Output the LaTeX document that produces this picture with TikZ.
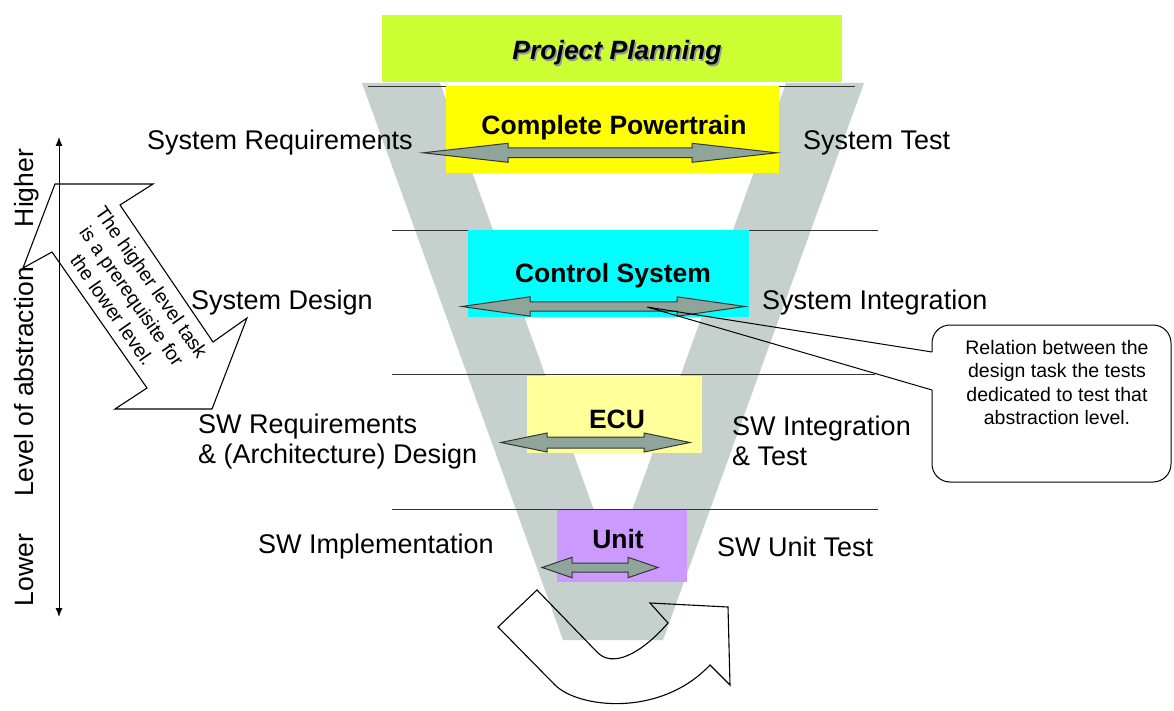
\documentclass[tikz,border=0pt]{standalone}
\usepackage{fontspec}
\setmainfont{Liberation Sans}
\usetikzlibrary{arrows.meta}
\definecolor{vgray}{RGB}{198,209,206}
\definecolor{ppgreen}{RGB}{204,255,51}
\definecolor{cpyellow}{RGB}{255,255,0}
\definecolor{cscyan}{RGB}{0,255,255}
\definecolor{ecuyellow}{RGB}{255,255,153}
\definecolor{unitpurple}{RGB}{204,153,255}
\definecolor{arrowgreen}{RGB}{143,165,156}
\definecolor{arrowedge}{RGB}{50,55,52}
\newcommand{\dblarrow}[6]{%
  \path[blk] (#1,#3) -- (#1+#4,#3-#6) -- (#1+#4,#3-#5) -- (#2-#4,#3-#5) -- (#2-#4,#3-#6)
    -- (#2,#3) -- (#2-#4,#3+#6) -- (#2-#4,#3+#5) -- (#1+#4,#3+#5) -- (#1+#4,#3+#6) -- cycle;}
\begin{document}
\begin{tikzpicture}[x=1pt,y=-1pt,
  lbl/.style={inner sep=0pt, anchor=base west, font=\fontsize{27}{31}\selectfont},
  boxlbl/.style={inner sep=0pt, anchor=base, font=\bfseries\fontsize{26.5}{31}\selectfont},
  boxbg/.style={inner sep=0pt, anchor=north west, draw=none},
  sepline/.style={draw=black!80, line width=0.9pt},
  blk/.style={fill=arrowgreen, draw=arrowedge, line width=1pt, line join=miter},
  outl/.style={draw=black, line width=1.1pt, line join=miter},
  vlbl/.style={inner sep=0pt, anchor=base, rotate=90, font=\fontsize{26.5}{31}\selectfont}]
\useasboundingbox (0,0) rectangle (1174,711);
\fill[white] (0,0) rectangle (1174,711);

% V shape
\fill[vgray] (362,83) -- (440,83) -- (613,563) -- (786,83) -- (864,83) -- (663,640) -- (563,640) -- cycle;

% level separators
\draw[sepline] (368,86) -- (855,86);
\draw[sepline] (392,230) -- (878,230);
\draw[sepline] (392,374) -- (875,374);
\draw[sepline] (392,509) -- (878,509);

% boxes
\node[boxbg, fill=ppgreen, minimum width=460pt, minimum height=67pt] (pp) at (382,15) {};
\node[boxbg, fill=cpyellow, minimum width=333pt, minimum height=87pt] (cp) at (446,86) {};
\node[boxbg, fill=cscyan, minimum width=281pt, minimum height=87pt] (cs) at (468,230) {};
\node[boxbg, fill=ecuyellow, minimum width=175pt, minimum height=77pt] (ecu) at (527,376) {};
\node[boxbg, fill=unitpurple, minimum width=130pt, minimum height=72pt] (unit) at (557,510) {};

% box titles
\node[boxlbl, text=black!40, font=\bfseries\itshape\fontsize{26.5}{31}\selectfont] (ppshadow) at (618.5,61.5) {Project Planning};
\node[boxlbl, font=\bfseries\itshape\fontsize{26.5}{31}\selectfont] (pptext) at (617,60) {Project Planning};
\node[boxlbl] (cptext) at (614,135) {Complete Powertrain};
\node[boxlbl] (cstext) at (613,282) {Control System};
\node[boxlbl] (ecutext) at (617,428) {ECU};
\node[boxlbl] (unittext) at (618,548) {Unit};

% double block arrows
\dblarrow{423}{777}{152.8}{85}{4.8}{9.5}
\dblarrow{462}{745}{306.5}{68}{4.7}{9.7}
\dblarrow{501}{690}{442.5}{46}{5.5}{9.5}
\dblarrow{542}{658}{567.5}{30}{4.5}{10.2}

% side labels
\node[lbl] (sr) at (147,150) {System Requirements};
\node[lbl] (st) at (803,150) {System Test};
\node[lbl] (sd) at (191,309) {System Design};
\node[lbl] (si) at (762,309) {System Integration};
\node[lbl] (swr1) at (198,433) {SW Requirements};
\node[lbl] (swr2) at (198,463) {\& (Architecture) Design};
\node[lbl] (swi1) at (732,435) {SW Integration};
\node[lbl] (swi2) at (732,465) {\& Test};
\node[lbl] (swimp) at (258,553) {SW Implementation};
\node[lbl] (swut) at (717,556) {SW Unit Test};

% abstraction axis
\coordinate (axtop) at (59,137);
\coordinate (axbot) at (59,617);
\draw[line width=1pt, {Latex[length=9pt,width=7pt]}-{Latex[length=9pt,width=7pt]}] (axtop) -- (axbot);
\node[vlbl] (hi) at (33,188) {Higher};
\node[vlbl] (loa) at (33,382) {Level of abstraction};
\node[vlbl] (lo) at (33,570) {Lower};

% diagonal double block arrow (outline only)
\draw[outl] (55,184) -- (153,184) -- (120,205) -- (213,342) -- (247,318) -- (212,409)
  -- (115,409) -- (147,388) -- (52,252) -- (23,268) -- cycle;
\node[inner sep=0pt, rotate=-55, align=center, font=\fontsize{19.5}{24}\selectfont] (prereq) at (132,296)
  {The higher level task\\is a prerequisite for\\the lower level.};

% U-turn arrow at the bottom (outline only)
\draw[outl] (537,590) -- (498,627) -- (555,685) .. controls (578,708) and (660,718) .. (710,665)
  -- (730,685) -- (728,607) -- (650,603) -- (668,623) .. controls (640,655) and (612,668) .. (597,652) -- cycle;

% callout
\coordinate (tip) at (647,307);
\coordinate (cu) at (932,352);
\coordinate (cl) at (932,390);
\fill[white, rounded corners=18pt] (932,325) rectangle (1171,482);
\draw[line width=1pt, rounded corners=18pt] (cl) -- (932,482) -- (1171,482) -- (1171,325) -- (932,325) -- (cu);
\draw[line width=1pt, line join=miter] (cu) -- (tip) -- (cl);
\node[inner sep=0pt, align=center, font=\fontsize{19.5}{23.5}\selectfont, anchor=north] (note) at (1057,340)
  {Relation between the\\design task the tests\\dedicated to test that\\abstraction level.};
\end{tikzpicture}
\end{document}
